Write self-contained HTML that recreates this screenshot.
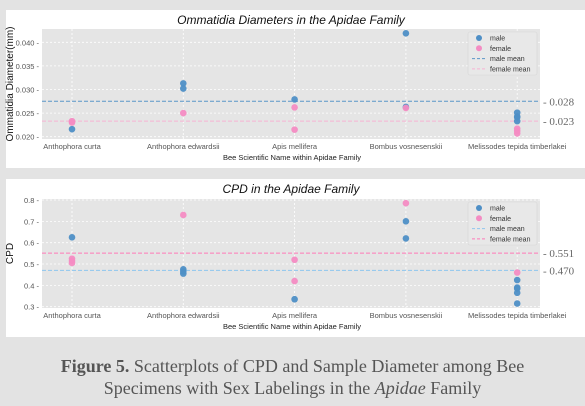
<!DOCTYPE html>
<html><head><meta charset="utf-8"><style>
body{margin:0;width:585px;height:406px;background:#e3e3e3;overflow:hidden;font-family:"Liberation Sans",sans-serif}
.panel{position:absolute;left:6px;width:579px;background:#fff}
svg{position:absolute;left:0;top:0}
.cap{position:absolute;left:0;width:585px;top:355px;text-align:center;font-family:"Liberation Serif",serif;font-size:18px;line-height:22px;color:#555}
</style></head><body>
<div class="panel" style="top:10px;height:158px"></div>
<div class="panel" style="top:179px;height:158px"></div>
<svg id="s" width="585" height="406"></svg>
<div class="cap"><b>Figure 5.</b> Scatterplots of CPD and Sample Diameter among Bee<br>Specimens with Sex Labelings in the <i>Apidae</i> Family</div>
<script>
const categories=["Anthophora curta","Anthophora edwardsii","Apis mellifera","Bombus vosnesenskii","Melissodes tepida timberlakei"];
const omMale=[[0.0216],[0.0313,0.0302],[0.0279],[0.0419,0.0263],[0.0251,0.0243,0.0241,0.0233]];
const omFemale=[[0.0230,0.0233],[0.0250],[0.0262,0.0215],[0.0261],[0.0217,0.0212,0.0207]];
const omMeans=[0.0275,0.0233];
const omMeanLabels=["0.028","0.023"];
const omTicks=[0.020,0.025,0.030,0.035,0.040];
const cpdMale=[[0.625],[0.475,0.465,0.455],[0.335],[0.70,0.62],[0.425,0.39,0.385,0.365,0.315]];
const cpdFemale=[[0.525,0.515,0.505],[0.73],[0.52,0.42],[0.785],[0.46]];
const cpdMeans=[0.470,0.551];
const cpdMeanLabels=["0.470","0.551"];
const cpdTicks=[0.3,0.4,0.5,0.6,0.7,0.8];

const svg=document.getElementById('s');const NS='http://www.w3.org/2000/svg';
function el(t,a,txt){const e=document.createElementNS(NS,t);for(const k in a)e.setAttribute(k,a[k]);if(txt!==undefined)e.textContent=txt;svg.appendChild(e);return e;}
const MALE='#4e8fc6',FEM='#f48cc3';
function chart(o){
  const {x0,x1,y0,y1,vLo,yLo,vHi,yHi}=o;
  const ys=v=>yLo+(v-vLo)*(yHi-yLo)/(vHi-vLo);
  const xs=i=>72+i*111.3;
  let e=el('rect',{x:x0,y:y0,width:x1-x0,height:y1-y0,fill:'#e5e5e5'});
  
  o.ticks.forEach(t=>{const y=ys(t);
    e=el('line',{x1:x0,x2:x1,y1:y,y2:y,stroke:'#fff','stroke-width':0.8,'stroke-dasharray':'2,2'});
    
    e=el('text',{x:x0-3,y:y+3,'text-anchor':'end','font-size':7.5,fill:'#555'},(o.dec?t.toFixed(3):t.toFixed(1))+' -');
    });
  categories.forEach((c,i)=>{const x=xs(i);
    e=el('line',{x1:x,x2:x,y1:y0,y2:y1,stroke:'#fff','stroke-width':0.8,'stroke-dasharray':'2,2'});
    
    e=el('text',{x:x,y:y1+10,'text-anchor':'middle','font-size':7.5,fill:'#555'},c);
    });
  o.meanCols.forEach((col,k)=>{const y=ys(o.means[k]);
    e=el('line',{x1:x0,x2:x1,y1:y,y2:y,stroke:col,'stroke-width':1,'stroke-dasharray':'4,2'});
    
    e=el('text',{x:x1+3,y:y+4,'font-size':11,fill:'#666','font-family':'Liberation Serif,serif'},'- '+o.meanLabels[k]);
    });
  [[o.male,MALE],[o.fem,FEM]].forEach(([arr,col])=>arr.forEach((vs,i)=>vs.forEach(v=>{
    e=el('circle',{cx:xs(i),cy:ys(v),r:3.3,fill:col,opacity:0.95});
    })));
  e=el('text',{x:(x0+x1)/2,y:o.ty,'text-anchor':'middle','font-size':12,'font-style':'italic',fill:'#111'},o.title);
  
  e=el('text',{x:292,y:y1+21,'text-anchor':'middle','font-size':7.5,fill:'#222'},'Bee Scientific Name within Apidae Family');
  
  e=el('text',{x:0,y:0,'text-anchor':'middle','font-size':o.ylfs,fill:'#111',transform:`translate(${o.ylx},${(y0+y1)/2}) rotate(-90)`},o.ylabel);
  
  const ly=o.ly;
  e=el('rect',{x:468,y:ly,width:69,height:43,fill:'#e8e8e8',stroke:'#d6d6d6','stroke-width':0.6,rx:2});
  
  const names=['male','female','male mean','female mean'];
  names.forEach((n,k)=>{const yy=ly+6+k*10.3;
    if(k<2){e=el('circle',{cx:479,cy:yy,r:3,fill:k?FEM:MALE});}
    else{e=el('line',{x1:472,x2:486,y1:yy,y2:yy,stroke:o.meanCols[k-2],'stroke-width':1,'stroke-dasharray':'3,2'});}
    
    e=el('text',{x:490,y:yy+2.5,'font-size':7,fill:'#333'},n);
    });
}
chart({id:'ommatidia',x0:42,x1:540,y0:29,y1:139,vLo:0.020,yLo:136.7,vHi:0.040,yHi:42.3,ticks:omTicks,dec:true,
  male:omMale,fem:omFemale,means:omMeans,meanLabels:omMeanLabels,meanCols:['#5a96c8','#f7b3d3'],
  title:'Ommatidia Diameters in the Apidae Family',ty:24,ylabel:'Ommatidia Diameter(mm)',ylfs:10,ylx:13,ly:32});
chart({id:'cpd',x0:42,x1:540,y0:199,y1:308,vLo:0.3,yLo:306.7,vHi:0.8,yHi:200,ticks:cpdTicks,dec:false,
  male:cpdMale,fem:cpdFemale,means:cpdMeans,meanLabels:cpdMeanLabels,meanCols:['#8ec6ee','#ff7ab8'],
  title:'CPD in the Apidae Family',ty:193,ylabel:'CPD',ylfs:10,ylx:13,ly:202});
</script>
</body></html>
